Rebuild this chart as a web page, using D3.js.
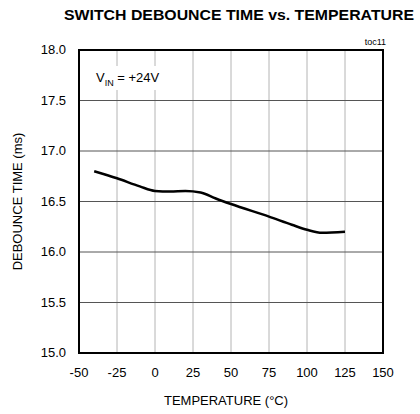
<!DOCTYPE html>
<html>
<head>
<meta charset="utf-8">
<script src="https://cdn.jsdelivr.net/npm/d3@7"></script>
<style>
  body { margin: 0; background: #fff; }
  text { font-family: "Liberation Sans", Arial, sans-serif; fill: #000; }
</style>
</head>
<body>
<svg id="chart"></svg>
<script>
var width = 420,
    height = 414,
    margin = {top: 50, right: 37, bottom: 61, left: 79};

// debounce time (ms) vs temperature (°C)
var temps = [-40, -25, -10, 0, 10, 20, 30, 40, 50, 75, 90, 100, 110, 125];
var debounce = [16.80, 16.73, 16.65, 16.605, 16.60, 16.605, 16.59, 16.53, 16.475, 16.35, 16.27, 16.22, 16.19, 16.20];

var xTicks = [-50, -25, 0, 25, 50, 75, 100, 125, 150];
var yTicks = [15.0, 15.5, 16.0, 16.5, 17.0, 17.5, 18.0];

var svg = d3.select("#chart")
    .attr("width", width)
    .attr("height", height);

var x = d3.scaleLinear().domain([-50, 150]).range([margin.left, width - margin.right]),
    y = d3.scaleLinear().domain([15, 18]).range([height - margin.bottom, margin.top]);

// grid: vertical light, horizontal darker
svg.append("g").selectAll("line")
    .data(xTicks.slice(1, -1))
    .join("line")
    .attr("x1", d => x(d)).attr("x2", d => x(d))
    .attr("y1", y(15)).attr("y2", y(18))
    .attr("stroke", "#b4b4b4")
    .attr("stroke-width", 1);

svg.append("g").selectAll("line")
    .data(yTicks.slice(1, -1))
    .join("line")
    .attr("x1", x(-50)).attr("x2", x(150))
    .attr("y1", d => y(d)).attr("y2", d => y(d))
    .attr("stroke", "#555")
    .attr("stroke-width", 1);

// white box behind the V_IN label
svg.append("rect")
    .attr("x", 94).attr("y", 66)
    .attr("width", 62).attr("height", 24)
    .attr("fill", "#fff");

var vin = svg.append("text")
    .attr("x", 96).attr("y", 82)
    .attr("font-size", 13);
vin.append("tspan").text("V");
vin.append("tspan").attr("font-size", 9).attr("dy", 4).text("IN");
vin.append("tspan").attr("dy", -4).text(" = +24V");

// frame
svg.append("rect")
    .attr("x", x(-50)).attr("y", y(18))
    .attr("width", x(150) - x(-50))
    .attr("height", y(15) - y(18))
    .attr("fill", "none")
    .attr("stroke", "#000")
    .attr("stroke-width", 2);

var line = d3.line()
    .x((d, i) => x(temps[i]))
    .y(d => y(d))
    .curve(d3.curveMonotoneX);

svg.append("path")
    .attr("d", line(debounce))
    .attr("fill", "none")
    .attr("stroke", "#000")
    .attr("stroke-width", 2.5)
    .attr("stroke-linejoin", "round");

// tick labels
svg.append("g").selectAll("text")
    .data(xTicks)
    .join("text")
    .attr("x", d => x(d))
    .attr("y", 377)
    .attr("text-anchor", "middle")
    .attr("font-size", 13)
    .text(d => d);

svg.append("g").selectAll("text")
    .data(yTicks)
    .join("text")
    .attr("x", 66)
    .attr("y", d => y(d) + 4)
    .attr("text-anchor", "end")
    .attr("font-size", 13)
    .text(d => d.toFixed(1));

// titles
svg.append("text")
    .attr("x", 64).attr("y", 20)
    .attr("font-size", 15)
    .attr("font-weight", "bold")
    .attr("textLength", 350)
    .attr("lengthAdjust", "spacingAndGlyphs")
    .text("SWITCH DEBOUNCE TIME vs. TEMPERATURE");

svg.append("text")
    .attr("x", 386).attr("y", 45)
    .attr("text-anchor", "end")
    .attr("font-size", 9)
    .text("toc11");

svg.append("text")
    .attr("x", 226).attr("y", 405)
    .attr("text-anchor", "middle")
    .attr("font-size", 13)
    .text("TEMPERATURE (°C)");

svg.append("text")
    .attr("transform", "translate(22," + ((y(15) + y(18)) / 2) + ") rotate(-90)")
    .attr("text-anchor", "middle")
    .attr("font-size", 13)
    .text("DEBOUNCE TIME (ms)");
</script>
</body>
</html>
